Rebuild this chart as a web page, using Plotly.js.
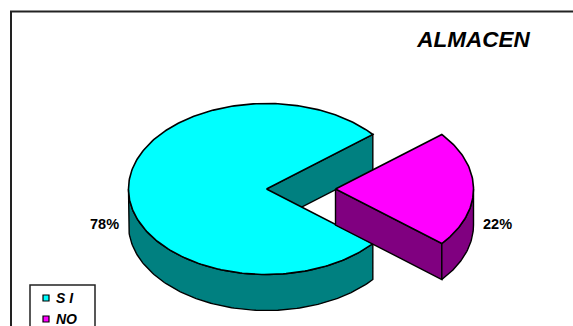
<!DOCTYPE html>
<html>
<head>
<meta charset="utf-8">
<script src="https://cdn.plot.ly/plotly-3.0.1.min.js"></script>
<style>html,body{margin:0;padding:0;background:#fff;overflow:hidden}#chart{width:573px;height:326px}</style>
</head>
<body>
<div id="chart"></div>
<script>
// Survey result for the warehouse question
const categories = ['S I', 'NO'];
const shares = [78, 22];
const topColors = ['#00FFFF', '#FF00FF'];
const wallColors = ['#008080', '#800080'];
const chartTitle = 'ALMACEN';

// Tilted-disc projection, in pixel units of the hidden axes
const CX = 266.5, CY = 189, RX = 138, RY = 85.5, DEPTH = 36, EXPLODE = 69;
const FONT = 'Liberation Sans, Arial, sans-serif';

const total = shares.reduce((a, b) => a + b, 0);
const halfNo = shares[1] / total * Math.PI; // the NO wedge is centred on the east direction

function rim(cx, t, dy) {
  return [cx + RX * Math.cos(t), CY + RY * Math.sin(t) + (dy || 0)];
}
function arc(cx, a, b, dy) {
  const n = Math.max(2, Math.ceil(Math.abs(b - a) / 0.02));
  const pts = [];
  for (let i = 0; i <= n; i++) pts.push(rim(cx, a + (b - a) * i / n, dy));
  return pts;
}
function poly(pts, color, width) {
  return {
    type: 'scatter', mode: 'lines', fill: 'toself', fillcolor: color,
    x: pts.map(p => p[0]), y: pts.map(p => p[1]),
    line: {color: '#000', width: width || 1.4},
    showlegend: false, hoverinfo: 'skip'
  };
}
const closed = pts => pts.concat([pts[0]]);

const mainCx = CX, noCx = CX + EXPLODE;
const traces = [];

// SI: wall seen through the notch, outer wall, then top face
const tipUp = rim(mainCx, -halfNo), hub = [mainCx, CY];
traces.push(poly(closed([hub, tipUp, [tipUp[0], tipUp[1] + DEPTH], [hub[0], hub[1] + DEPTH]]), wallColors[0]));
traces.push(poly(closed(arc(mainCx, halfNo, Math.PI).concat(arc(mainCx, Math.PI, halfNo, DEPTH))), wallColors[0]));
traces.push(poly(closed([hub].concat(arc(mainCx, halfNo, 2 * Math.PI - halfNo))), topColors[0], 1.6));

// NO: cut wall, outer wall, then top face
const noHub = [noCx, CY], noTip = rim(noCx, halfNo);
traces.push(poly(closed([noHub, noTip, [noTip[0], noTip[1] + DEPTH], [noHub[0], noHub[1] + DEPTH]]), wallColors[1]));
traces.push(poly(closed(arc(noCx, 0, halfNo).concat(arc(noCx, halfNo, 0, DEPTH))), wallColors[1]));
traces.push(poly(closed([noHub].concat(arc(noCx, -halfNo, halfNo))), topColors[1], 1.6));

// Key: swatches, entry text and the box around them
const KEY_X = 46, KEY_TEXT_X = 55, KEY_Y = [298, 319];
traces.push({
  type: 'scatter', mode: 'markers', x: KEY_Y.map(() => KEY_X), y: KEY_Y,
  marker: {symbol: 'square', size: 6, color: topColors, line: {color: '#000', width: 1.2}},
  showlegend: false, hoverinfo: 'skip', cliponaxis: false
});

const percentLabel = (i, x, anchor) => ({
  x: x, y: 224, xref: 'x', yref: 'y', text: '<b>' + shares[i] + '%</b>', showarrow: false,
  xanchor: anchor, yanchor: 'middle',
  font: {family: FONT, size: 14.5, color: '#000'}
});
const keyLabel = (name, i) => ({
  x: KEY_TEXT_X, y: KEY_Y[i], xref: 'x', yref: 'y', text: '<b><i>' + name + '</i></b>',
  showarrow: false, xanchor: 'left', yanchor: 'middle', borderpad: 0,
  font: {family: FONT, size: 14, color: '#000'}
});

const layout = {
  width: 573, height: 326,
  margin: {l: 0, r: 0, t: 0, b: 0},
  paper_bgcolor: '#fff', plot_bgcolor: '#fff',
  title: {
    text: '<b><i>' + chartTitle + '</i></b>',
    x: 473.5 / 573, xanchor: 'center', y: 1 - 39 / 326, yanchor: 'middle',
    font: {family: FONT, size: 22.5, color: '#000'}
  },
  xaxis: {range: [0, 573], visible: false, fixedrange: true},
  yaxis: {range: [326, 0], visible: false, fixedrange: true},
  showlegend: false,
  annotations: [percentLabel(0, 120.5, 'right'), percentLabel(1, 481, 'left')]
    .concat(categories.map(keyLabel)),
  shapes: [
    {type: 'rect', xref: 'x', yref: 'y', x0: 11, y0: 11.5, x1: 640, y1: 400,
     line: {color: '#222', width: 2}, layer: 'below'},
    {type: 'rect', xref: 'x', yref: 'y', x0: 30, y0: 285, x1: 95, y1: 400,
     line: {color: '#222', width: 1.5}, layer: 'below'}
  ]
};

Plotly.newPlot('chart', traces, layout, {displayModeBar: false, staticPlot: true});
</script>
</body>
</html>
